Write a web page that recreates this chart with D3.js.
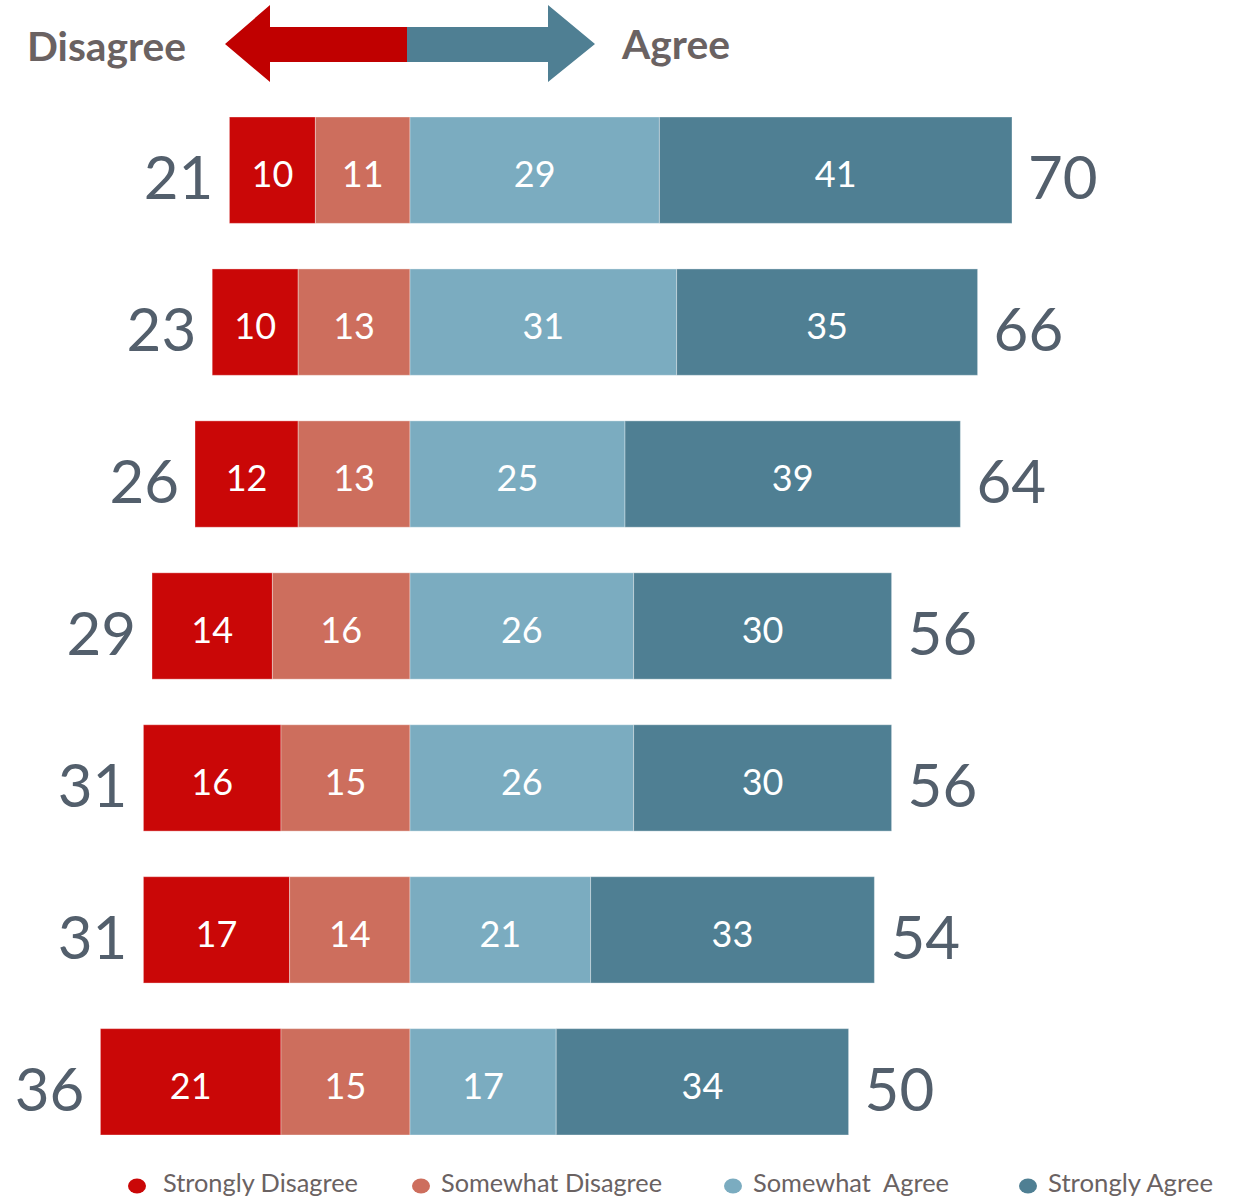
<!DOCTYPE html>
<html><head><meta charset="utf-8">
<script src="https://cdn.jsdelivr.net/npm/d3@7"></script>
<style>
body{margin:0;background:#fff;}
svg{display:block;font-family:Lato,"Open Sans",sans-serif;}
</style></head><body>
<svg id="chart" width="1246" height="1198"></svg>
<script>
const rows = ["r1","r2","r3","r4","r5","r6","r7"];
const stronglyDisagree = [10,10,12,14,16,17,21];
const somewhatDisagree = [11,13,13,16,15,14,15];
const somewhatAgree = [29,31,25,26,26,21,17];
const stronglyAgree = [41,35,39,30,30,33,34];
const disagreeTotals = [21,23,26,29,31,31,36];
const agreeTotals = [70,66,64,56,56,54,50];
const legendLabels = ["Strongly Disagree","Somewhat Disagree","Somewhat  Agree","Strongly Agree"];
const colors = ["#CA0707","#CD6E5D","#7BACC0","#4F7F93"];

const svg = d3.select("#chart");
const x = d3.scaleLinear().domain([-40,80]).range([410-344,410+688]);
const y = d3.scaleBand().domain(rows).range([117,1135]).paddingInner(0.3).paddingOuter(0);

// arrow header
const arrowG = svg.append("g");
arrowG.append("path").attr("d","M407,27 L270,27 L270,5 L225,44 L270,82 L270,62 L407,62 Z").attr("fill","#C00000");
arrowG.append("path").attr("d","M407,27 L548,27 L548,5 L595,44 L548,82 L548,62 L407,62 Z").attr("fill","#4F7F93");
svg.append("text").attr("x",27).attr("y",61).text("Disagree")
  .attr("font-size",40).attr("font-weight","bold").attr("fill","#6A6262")
  .attr("textLength",159).attr("lengthAdjust","spacingAndGlyphs");
svg.append("text").attr("x",622).attr("y",59).text("Agree")
  .attr("font-size",40).attr("font-weight","bold").attr("fill","#6A6262")
  .attr("textLength",108).attr("lengthAdjust","spacingAndGlyphs");

const data = rows.map((r,i)=>({
  r,
  segs:[
    {v:stronglyDisagree[i], x0:-(stronglyDisagree[i]+somewhatDisagree[i]), x1:-somewhatDisagree[i], c:0},
    {v:somewhatDisagree[i], x0:-somewhatDisagree[i], x1:0, c:1},
    {v:somewhatAgree[i], x0:0, x1:somewhatAgree[i], c:2},
    {v:stronglyAgree[i], x0:somewhatAgree[i], x1:somewhatAgree[i]+stronglyAgree[i], c:3}
  ],
  dt:disagreeTotals[i], at:agreeTotals[i]
}));

const g = svg.selectAll("g.row").data(data).join("g").attr("class","row");
g.selectAll("rect").data(d=>d.segs.map(s=>({...s,r:d.r}))).join("rect")
  .attr("x",s=>x(s.x0)).attr("width",s=>x(s.x1)-x(s.x0))
  .attr("y",s=>y(s.r)).attr("height",y.bandwidth())
  .attr("fill",s=>colors[s.c]).attr("stroke","rgba(255,255,255,0.35)").attr("stroke-width",1);
g.selectAll("text.seg").data(d=>d.segs.map(s=>({...s,r:d.r}))).join("text").attr("class","seg")
  .attr("x",s=>(x(s.x0)+x(s.x1))/2).attr("y",s=>y(s.r)+y.bandwidth()/2+17)
  .attr("text-anchor","middle").attr("fill","#fff").attr("font-size",36)
  .text(s=>s.v);
g.append("text").attr("x",d=>x(d.segs[0].x0)-16).attr("y",d=>y(d.r)+y.bandwidth()/2+29)
  .attr("text-anchor","end").attr("font-size",60).attr("fill","#535F6C").text(d=>d.dt);
g.append("text").attr("x",d=>x(d.segs[3].x1)+16).attr("y",d=>y(d.r)+y.bandwidth()/2+29)
  .attr("text-anchor","start").attr("font-size",60).attr("fill","#535F6C").text(d=>d.at);

// legend
const legX = [137,421,733,1028];
const legTX = [163,441,753,1048];
const legW = [195,221,196,165];
const lg = svg.selectAll("g.leg").data(legendLabels).join("g").attr("class","leg");
lg.append("ellipse").attr("cx",(d,i)=>legX[i]).attr("cy",1186).attr("rx",9).attr("ry",7.5).attr("fill",(d,i)=>colors[i]);
lg.append("text").attr("x",(d,i)=>legTX[i]).attr("y",1192).attr("font-size",25).attr("fill","#6A6262")
  .attr("textLength",(d,i)=>legW[i]).attr("lengthAdjust","spacingAndGlyphs")
  .attr("xml:space","preserve").text(d=>d);
</script></body></html>
